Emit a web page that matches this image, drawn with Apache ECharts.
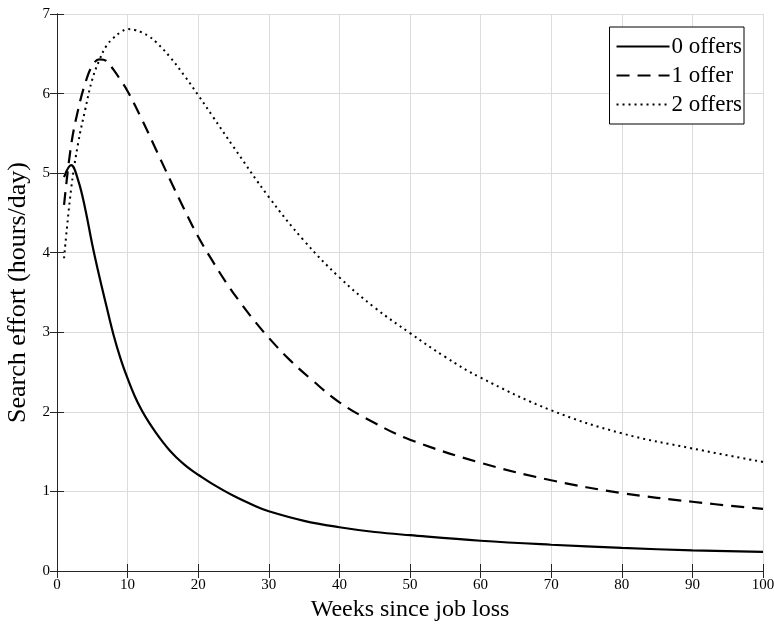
<!DOCTYPE html>
<html>
<head>
<meta charset="utf-8">
<script src="https://cdn.jsdelivr.net/npm/echarts@6/dist/echarts.min.js"></script>
<style>html,body{margin:0;padding:0;background:#fff;}#c{width:774px;height:625px;}</style>
</head>
<body>
<div id="c"></div>
<script>
const seriesNames = ['0 offers', '1 offer', '2 offers'];
const weeks0 = [1,2,3,4,5,6,7,8,9,10,11,12,13,14,15,16,17,18,19,20,22,25,28,30,35,40,45,50,60,70,80,90,100];
const offers0 = [4.95,5.1,4.91,4.55,4.1,3.7,3.33,2.97,2.67,2.42,2.2,2.02,1.87,1.74,1.62,1.51,1.42,1.34,1.27,1.21,1.095,0.945,0.82,0.75,0.63,0.55,0.49,0.45,0.38,0.33,0.29,0.26,0.24];
const weeks1 = [1,2,3,4,5,6,7,8,9,10,12,14,16,18,20,22,24,26,28,30,33,36,40,45,50,60,70,80,90,100];
const offers1 = [4.6,5.35,5.8,6.13,6.35,6.43,6.41,6.3,6.17,6.03,5.68,5.3,4.92,4.55,4.2,3.9,3.62,3.37,3.14,2.93,2.65,2.41,2.12,1.86,1.65,1.36,1.14,0.98,0.87,0.78];
const weeks2 = [1,2,3,4,5,6,7,8,9,10,11,12,13,14,16,18,20,22,25,30,35,40,45,50,55,60,70,80,90,100];
const offers2 = [3.93,4.8,5.38,5.8,6.18,6.42,6.6,6.7,6.77,6.81,6.8,6.77,6.72,6.65,6.46,6.23,5.98,5.72,5.33,4.7,4.15,3.69,3.31,2.99,2.69,2.43,2.02,1.73,1.54,1.37];
const xTicks = [0,10,20,30,40,50,60,70,80,90,100];
const yTicks = [0,1,2,3,4,5,6,7];

function pairs(xs, ys){ return xs.map((x,i)=>[x, ys[i]]); }
const FONT = 'Liberation Serif';
const chart = echarts.init(document.getElementById('c'), null, {renderer:'canvas'});
const axisLine = {show:true, lineStyle:{color:'#262626', width:1}};
const gridLine = {show:true, lineStyle:{color:'#dcdcdc', width:1}};
chart.setOption({
  animation:false,
  backgroundColor:'#fff',
  grid:{left:57, right:11, top:14, bottom:54, containLabel:false, outerBoundsMode:'none'},
  legend:{
    right:30, top:27,
    orient:'vertical',
    data:seriesNames,
    backgroundColor:'#fff', borderColor:'#000', borderWidth:1,
    padding:[8,2,8,6],
    itemWidth:53, itemHeight:14, itemGap:6,
    itemStyle:{opacity:0},
    textStyle:{fontFamily:FONT, fontSize:23, lineHeight:22, color:'#000', padding:[0,0,0,-3]}
  },
  xAxis:[{
    type:'value', min:0, max:100, interval:10, position:'bottom',
    name:'Weeks since job loss', nameLocation:'middle', nameGap:27,
    nameTextStyle:{fontFamily:FONT, fontSize:24, color:'#000'},
    axisLine:axisLine, axisTick:{show:true, inside:true, length:7, lineStyle:{color:'#262626'}},
    axisLabel:{fontFamily:FONT, fontSize:15, color:'#000', margin:7},
    splitLine:gridLine
  },{
    type:'value', min:0, max:100, interval:10, position:'top',
    axisLine:axisLine, axisTick:{show:true, inside:true, length:7, lineStyle:{color:'#262626'}},
    axisLabel:{show:false}, splitLine:{show:false}
  }],
  yAxis:[{
    type:'value', min:0, max:7, interval:1, position:'left',
    name:'Search effort (hours/day)', nameLocation:'middle', nameGap:22,
    nameTextStyle:{fontFamily:FONT, fontSize:26, color:'#000'},
    axisLine:axisLine, axisTick:{show:true, inside:true, length:7, lineStyle:{color:'#262626'}},
    axisLabel:{fontFamily:FONT, fontSize:15, color:'#000', margin:7},
    splitLine:gridLine
  },{
    type:'value', min:0, max:7, interval:1, position:'right',
    axisLine:axisLine, axisTick:{show:true, inside:true, length:7, lineStyle:{color:'#262626'}},
    axisLabel:{show:false}, splitLine:{show:false}
  }],
  series:[
    {name:seriesNames[0], type:'line', data:pairs(weeks0, offers0), smooth:0.4, symbol:'none',
     lineStyle:{color:'#000', width:2.2, type:'solid'}, itemStyle:{color:'#000'}},
    {name:seriesNames[1], type:'line', data:pairs(weeks1, offers1), smooth:0.4, symbol:'none',
     lineStyle:{color:'#000', width:2.2, type:[13,8]}, itemStyle:{color:'#000'}},
    {name:seriesNames[2], type:'line', data:pairs(weeks2, offers2), smooth:0.4, symbol:'none',
     lineStyle:{color:'#000', width:2, type:[2,4]}, itemStyle:{color:'#000'}}
  ]
});
</script>
</body>
</html>
